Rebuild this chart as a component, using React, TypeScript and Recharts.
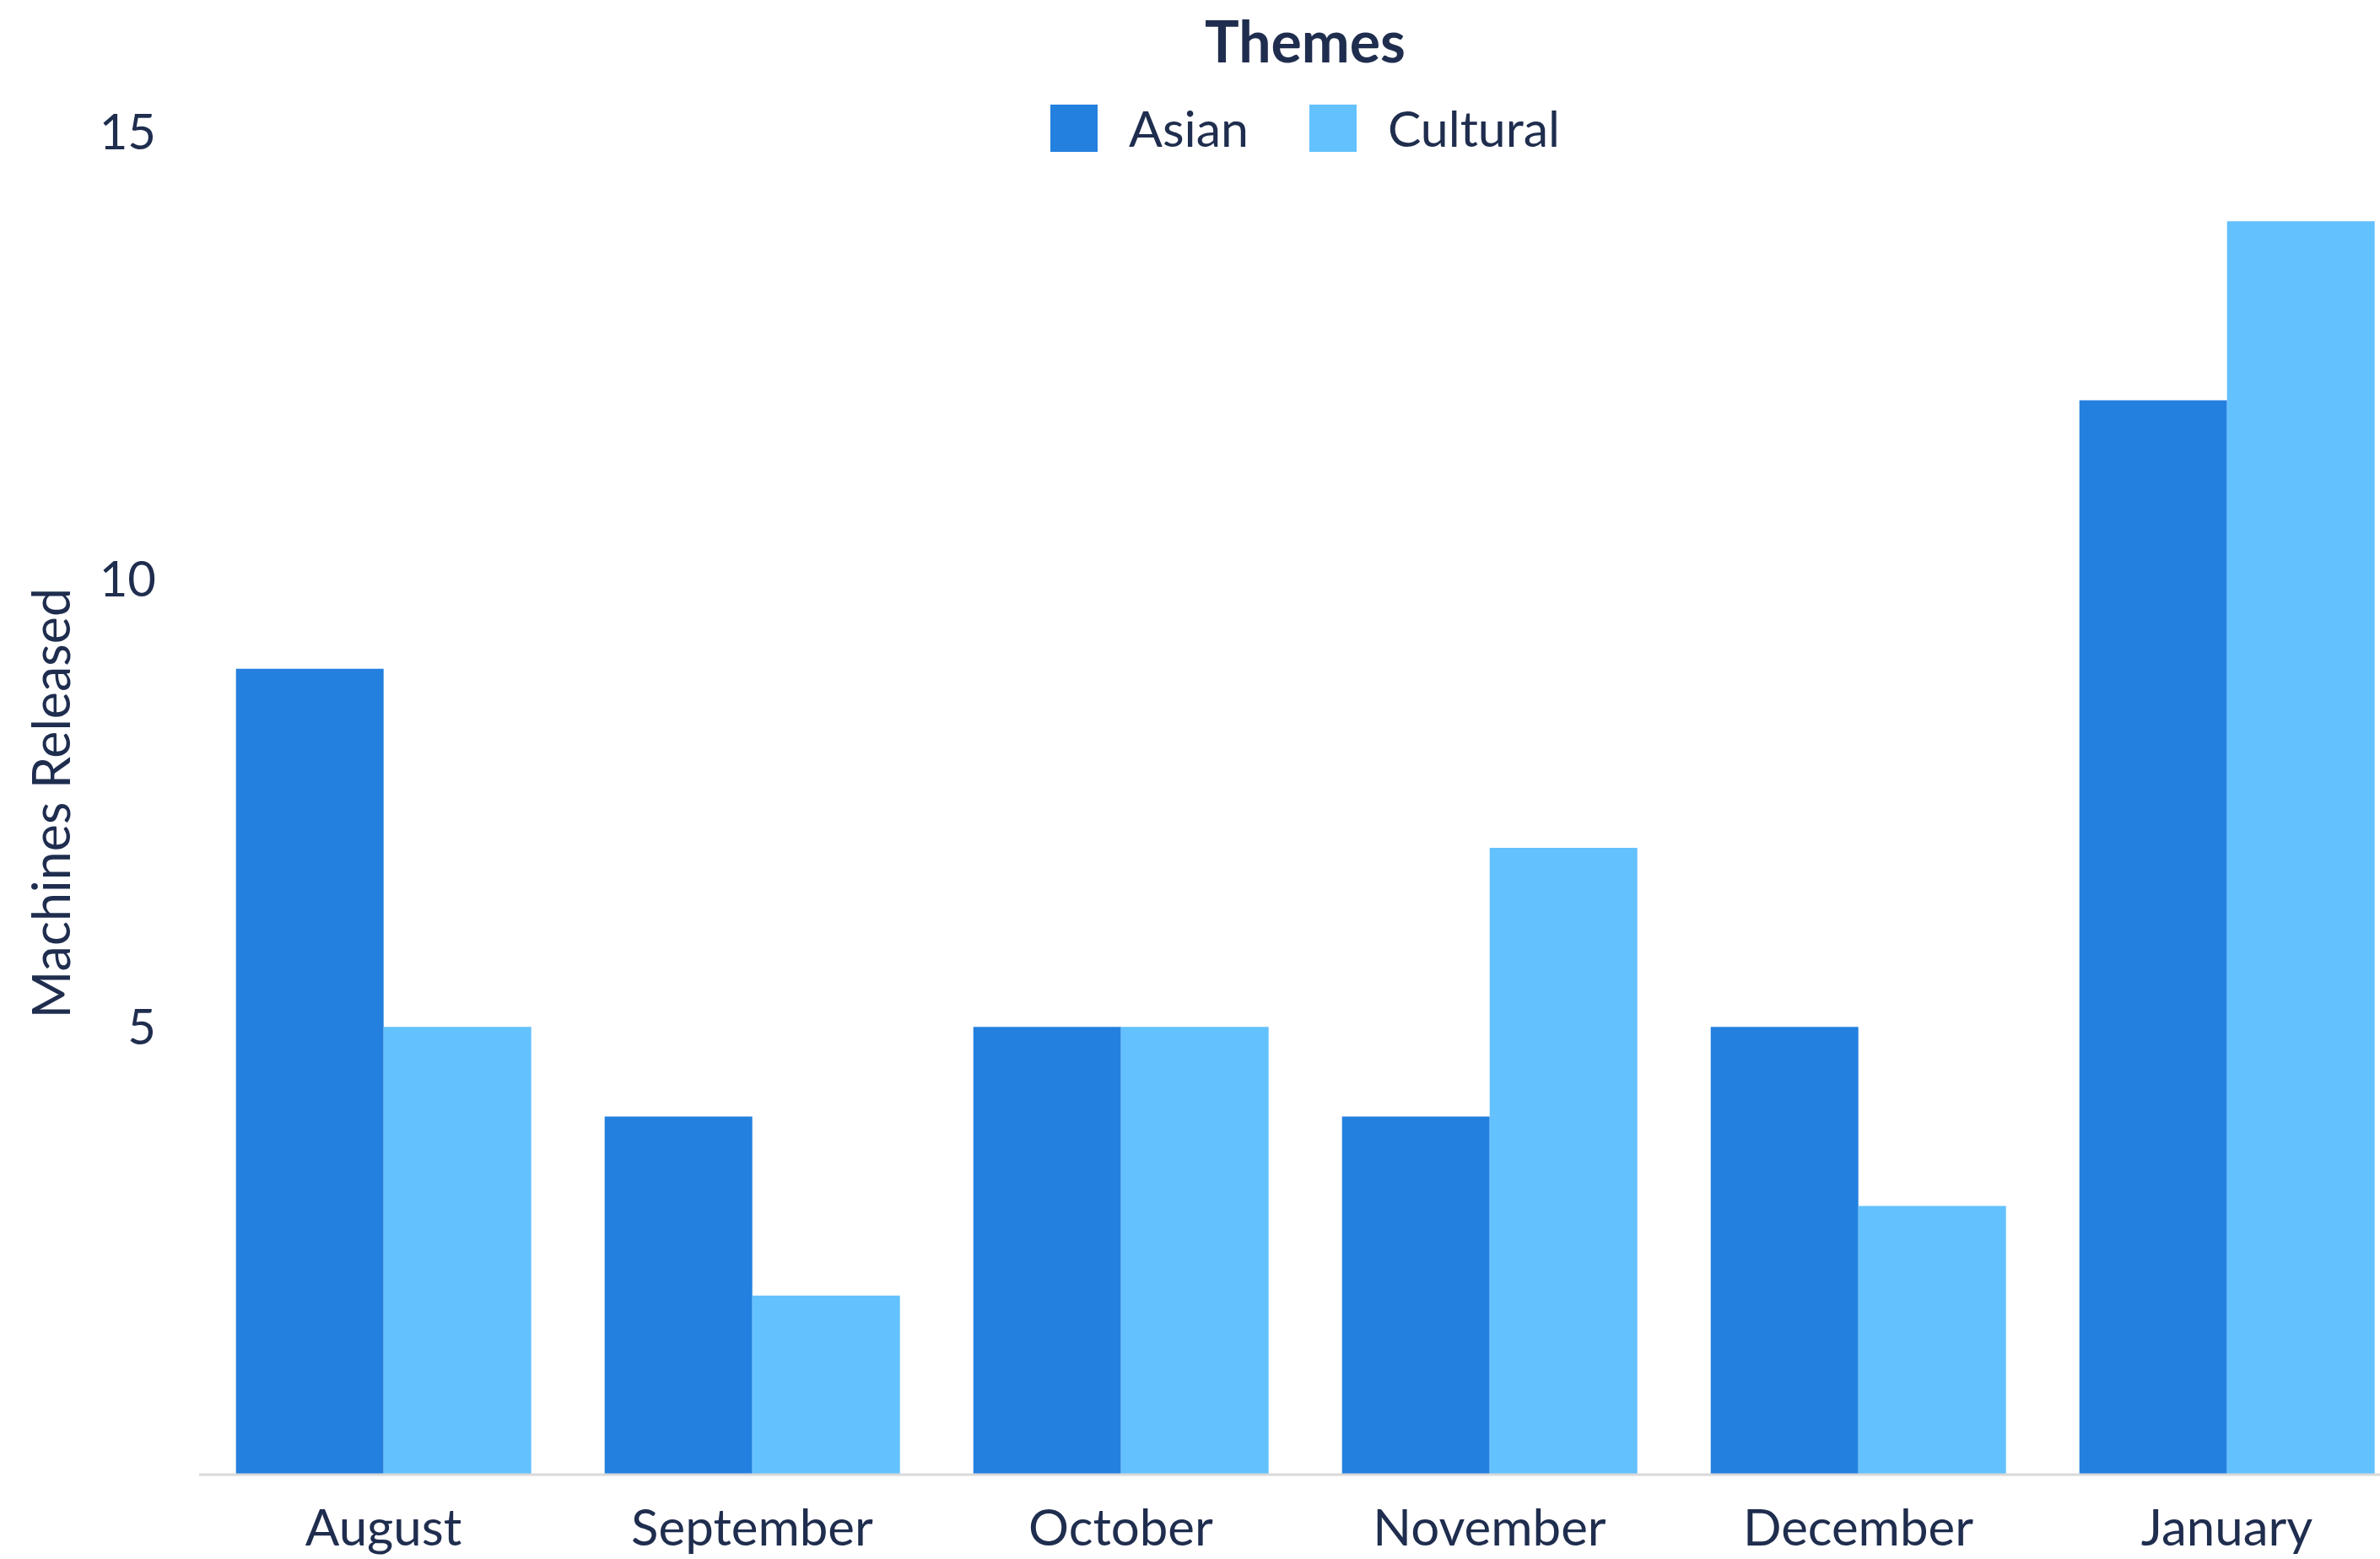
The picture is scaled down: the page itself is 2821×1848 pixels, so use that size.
import { BarChart, Bar, XAxis, YAxis, Legend, Label } from 'recharts'

// months shown on the x axis
const months = ['August', 'September', 'October', 'November', 'December', 'January']
// machines released per theme
const asianValues = [9, 4, 5, 4, 5, 12]
const culturalValues = [5, 2, 5, 7, 3, 14]
const yTicks = [5, 10, 15]

const seriesNames = { asian: 'Asian', cultural: 'Cultural' }
const COLORS = { asian: '#2380df', cultural: '#63c1fe' }
const TEXT = '#1f2d4e'
const FONT = "Lato, 'Open Sans', sans-serif"

const CHART_W = 2858
const CHART_H = 1848
const Y_AXIS_W = 236

const data = months.map((month, i) => ({
  month,
  asian: asianValues[i],
  cultural: culturalValues[i],
}))

// title + legend row, centred over the plot area
function ThemeLegend(props: any) {
  const payload = props.payload || []
  return (
    <div
      style={{
        position: 'absolute',
        left: Y_AXIS_W,
        top: 0,
        width: CHART_W - Y_AXIS_W,
        fontFamily: FONT,
        color: TEXT,
      }}
    >
      <div
        style={{
          height: 96,
          lineHeight: '96px',
          textAlign: 'center',
          fontSize: 68,
          fontWeight: 700,
        }}
      >
        Themes
      </div>
      <div
        style={{
          display: 'flex',
          justifyContent: 'center',
          alignItems: 'center',
          marginTop: 28,
          height: 56,
        }}
      >
        {payload.map((entry: any, i: number) => (
          <div
            key={entry.value}
            style={{
              display: 'flex',
              alignItems: 'center',
              marginLeft: i === 0 ? 0 : 72,
            }}
          >
            <span
              style={{
                display: 'inline-block',
                width: 56,
                height: 56,
                background: entry.color,
                marginRight: 37,
              }}
            />
            <span style={{ fontSize: 59, lineHeight: '56px' }}>{entry.value}</span>
          </div>
        ))}
      </div>
    </div>
  )
}

function YLabel(props: any) {
  const vb = props.viewBox || { x: 0, y: 0, height: 0 }
  const cx = 83
  const cy = vb.y + vb.height / 2
  return (
    <text
      x={cx}
      y={cy}
      transform={`rotate(-90 ${cx} ${cy})`}
      textAnchor="middle"
      fill={TEXT}
      fontSize={61}
      fontFamily={FONT}
    >
      Machines Released
    </text>
  )
}

export default function App() {
  return (
    <div
      style={{
        position: 'absolute',
        left: 0,
        top: 0,
        width: 2821,
        height: 1848,
        overflow: 'hidden',
        background: '#fff',
      }}
    >
      <BarChart
        width={CHART_W}
        height={CHART_H}
        data={data}
        margin={{ top: 156, right: 0, bottom: 0, left: 0 }}
        barCategoryGap="10%"
        barGap={0}
      >
        <XAxis
          dataKey="month"
          height={100}
          axisLine={{ stroke: '#d9d9d9', strokeWidth: 3 }}
          tickLine={false}
          tickMargin={35}
          tick={{ fill: TEXT, fontSize: 60, fontFamily: FONT }}
        />
        <YAxis
          width={Y_AXIS_W}
          domain={[0, 15]}
          ticks={yTicks}
          axisLine={false}
          tickLine={false}
          tickMargin={45}
          tick={{ fill: TEXT, fontSize: 58, fontFamily: FONT }}
        >
          <Label content={<YLabel />} />
        </YAxis>
        <Legend
          verticalAlign="top"
          content={<ThemeLegend />}
          wrapperStyle={{ top: 0, left: 0, width: CHART_W, height: 0, overflow: 'visible' }}
        />
        <Bar dataKey="asian" name={seriesNames.asian} fill={COLORS.asian} isAnimationActive={false} />
        <Bar dataKey="cultural" name={seriesNames.cultural} fill={COLORS.cultural} isAnimationActive={false} />
      </BarChart>
    </div>
  )
}
